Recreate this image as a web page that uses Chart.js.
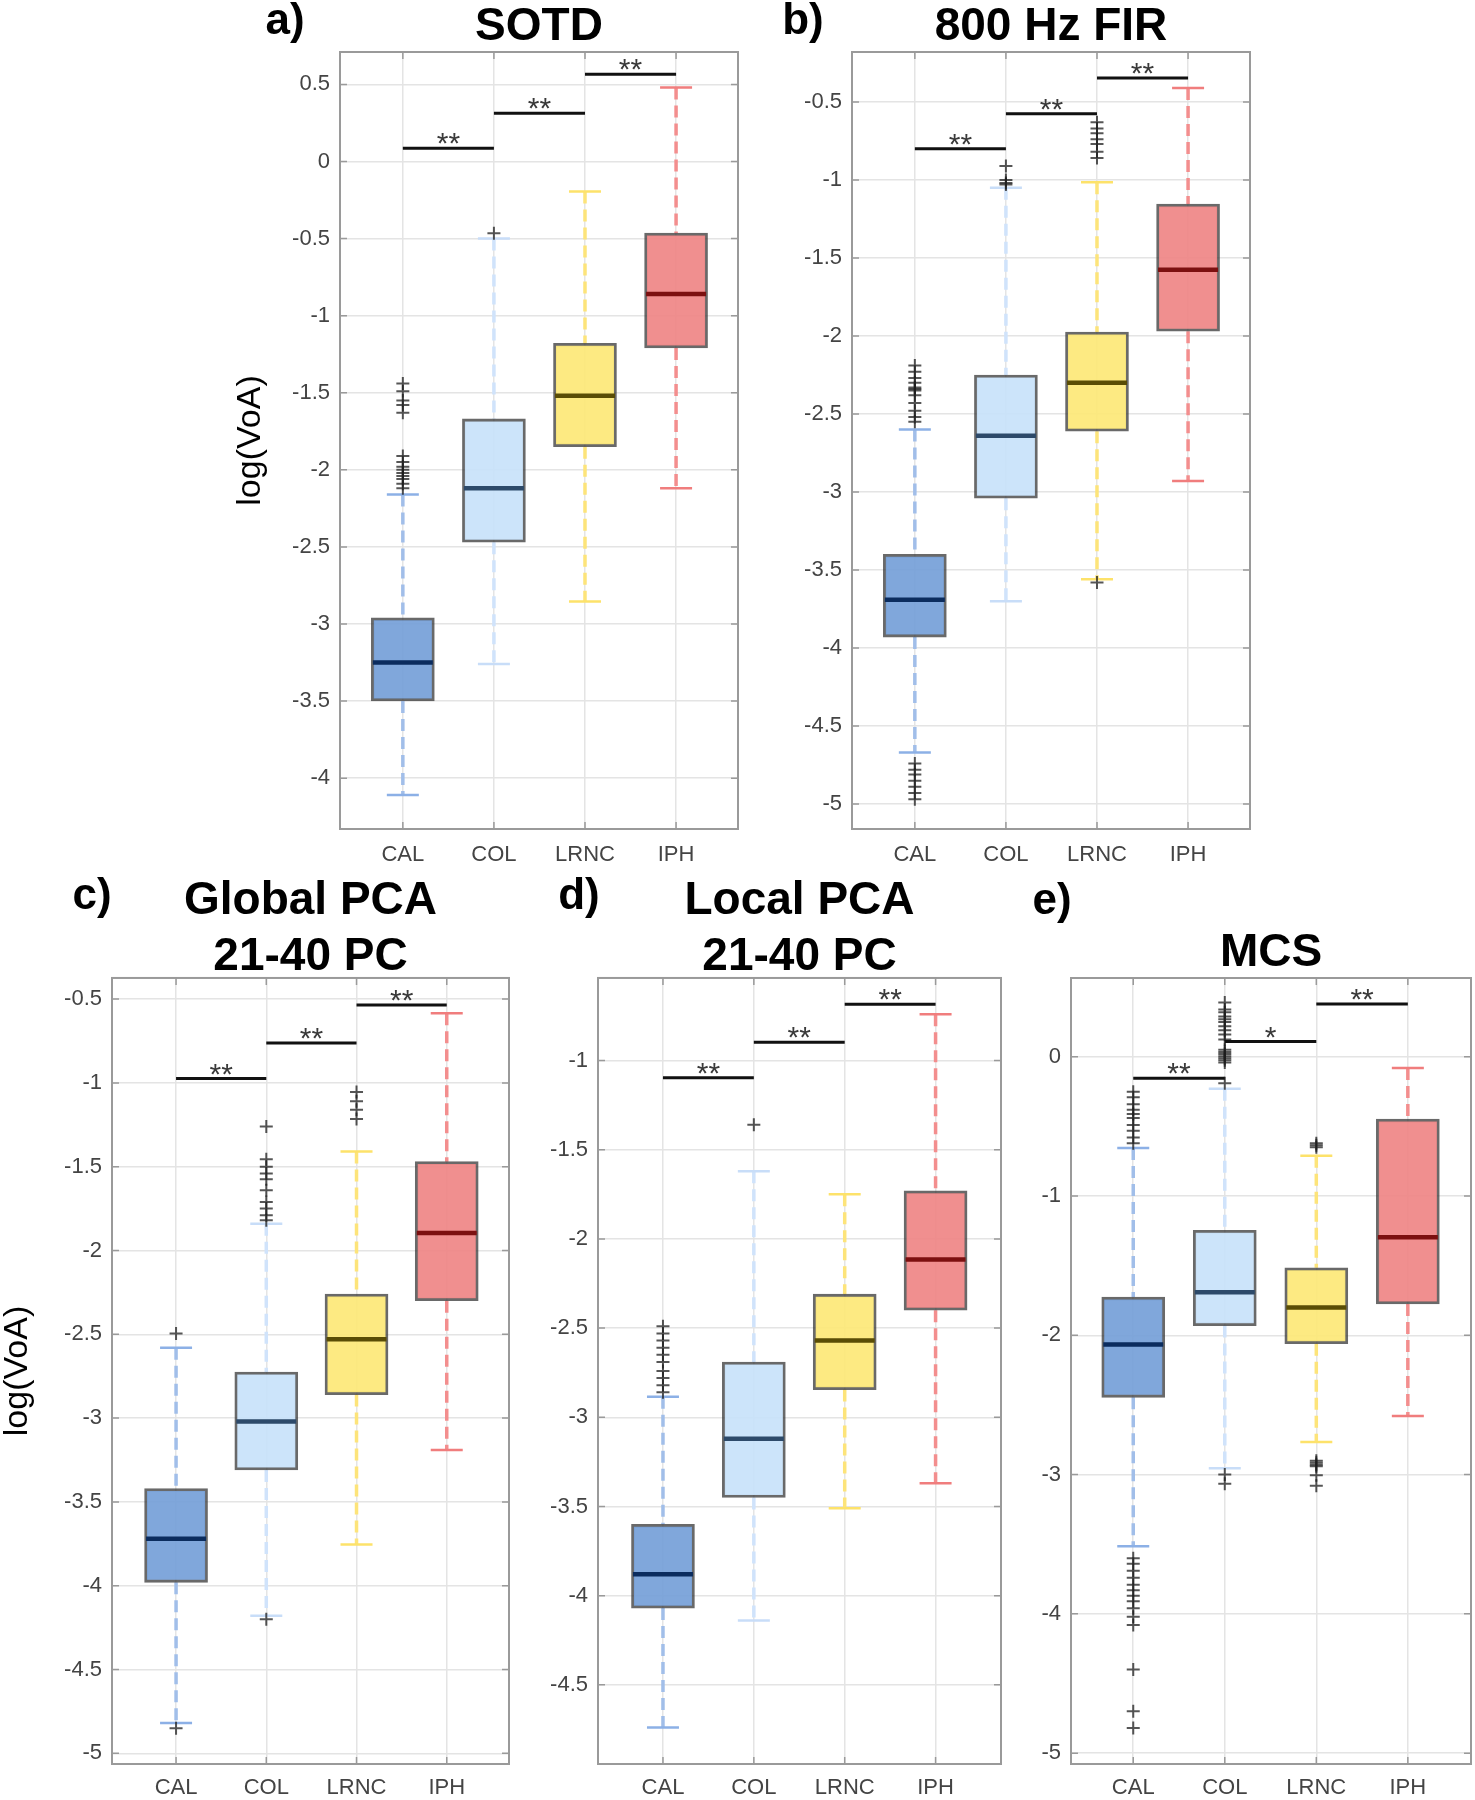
<!DOCTYPE html>
<html>
<head>
<meta charset="utf-8">
<title>log(VoA) box plots</title>
<script src="https://cdn.jsdelivr.net/npm/chart.js@4.4.0/dist/chart.umd.min.js"></script>
<style>
    body { margin: 0; background: #fff; }
    #figure { position: relative; width: 1475px; height: 1800px; overflow: hidden; background: #fff; }
    #figure canvas { position: absolute; }
</style>
</head>
<body>
<div id="figure"></div>
<script>
// Box plots of log(VoA) per plaque component, five methods

const FONT = '"Liberation Sans", Arial, Helvetica, sans-serif';

const categories = ['CAL', 'COL', 'LRNC', 'IPH'];
const yTitle = 'log(VoA)';

// a) SOTD
const sotdQ1 = [-3.50, -2.47, -1.85, -1.21];
const sotdMedian = [-3.25, -2.12, -1.52, -0.86];
const sotdQ3 = [-2.96, -1.67, -1.18, -0.465];
const sotdLow = [-4.11, -3.26, -2.855, -2.12];
const sotdHigh = [-2.16, -0.50, -0.195, 0.48];
const sotdOutliers = [
    [-1.44, -1.49, -1.55, -1.58, -1.63, -1.91, -1.95, -1.98, -2.00, -2.02, -2.04, -2.06, -2.09, -2.12],
    [-0.465],
    [],
    []
];
const sotdSig = [0.086, 0.313, 0.565];
const sotdStars = ['**', '**', '**'];
const sotdTicks = [-4, -3.5, -3, -2.5, -2, -1.5, -1, -0.5, 0, 0.5];

// b) 800 Hz FIR
const firQ1 = [-3.93, -3.04, -2.61, -1.97];
const firMedian = [-3.69, -2.64, -2.30, -1.575];
const firQ3 = [-3.40, -2.25, -1.975, -1.155];
const firLow = [-4.67, -3.70, -3.56, -2.93];
const firHigh = [-2.60, -1.05, -1.015, -0.41];
const firOutliers = [
    [-2.19, -2.23, -2.27, -2.30, -2.33, -2.34, -2.35, -2.38, -2.43, -2.48, -2.52, -2.55,
     -4.74, -4.78, -4.81, -4.85, -4.89, -4.93, -4.97],
    [-0.91, -1.00, -1.02, -1.03],
    [-0.63, -0.67, -0.70, -0.74, -0.77, -0.82, -0.86, -3.58],
    []
];
const firSig = [-0.80, -0.575, -0.347];
const firStars = ['**', '**', '**'];
const firTicks = [-5, -4.5, -4, -3.5, -3, -2.5, -2, -1.5, -1, -0.5];

// c) Global PCA 21-40 PC
const globalQ1 = [-3.98, -3.31, -2.86, -2.30];
const globalMedian = [-3.72, -3.02, -2.53, -1.895];
const globalQ3 = [-3.42, -2.725, -2.26, -1.47];
const globalLow = [-4.82, -4.18, -3.755, -3.19];
const globalHigh = [-2.58, -1.84, -1.41, -0.585];
const globalOutliers = [
    [-2.495, -4.85],
    [-1.26, -1.455, -1.50, -1.54, -1.575, -1.64, -1.71, -1.75, -1.79, -1.82, -4.20],
    [-1.055, -1.11, -1.16, -1.215],
    []
];
const globalSig = [-0.974, -0.762, -0.535];
const globalStars = ['**', '**', '**'];
const globalTicks = [-5, -4.5, -4, -3.5, -3, -2.5, -2, -1.5, -1, -0.5];

// d) Local PCA 21-40 PC
const localQ1 = [-4.07, -3.45, -2.845, -2.40];
const localMedian = [-3.88, -3.12, -2.57, -2.115];
const localQ3 = [-3.60, -2.69, -2.31, -1.73];
const localLow = [-4.74, -4.14, -3.51, -3.37];
const localHigh = [-2.885, -1.62, -1.75, -0.74];
const localOutliers = [
    [-2.49, -2.53, -2.57, -2.61, -2.65, -2.69, -2.74, -2.78, -2.82, -2.86],
    [-1.36],
    [],
    []
];
const localSig = [-1.096, -0.897, -0.684];
const localStars = ['**', '**', '**'];
const localTicks = [-4.5, -4, -3.5, -3, -2.5, -2, -1.5, -1];

// e) MCS
const mcsQ1 = [-2.445, -1.93, -2.06, -1.775];
const mcsMedian = [-2.065, -1.69, -1.80, -1.295];
const mcsQ3 = [-1.725, -1.245, -1.515, -0.447];
const mcsLow = [-3.515, -2.955, -2.765, -2.58];
const mcsHigh = [-0.655, -0.23, -0.71, -0.08];
const mcsOutliers = [
    [-0.25, -0.29, -0.34, -0.38, -0.41, -0.44, -0.49, -0.53, -0.58, -0.62,
     -3.60, -3.64, -3.69, -3.74, -3.79, -3.83, -3.87, -3.91, -3.96, -4.02, -4.08, -4.40, -4.70, -4.82],
    [0.39, 0.34, 0.32, 0.29, 0.27, 0.25, 0.22, 0.19, 0.16, 0.125,
     0.05, 0.035, 0.02, 0.005, -0.01, -0.025, -0.04, -0.19, -3.00, -3.065],
    [-0.62, -0.635, -0.65, -2.90, -2.915, -2.93, -2.94, -3.005, -3.08],
    []
];
const mcsSig = [-0.153, 0.11, 0.379];
const mcsStars = ['**', '*', '**'];
const mcsTicks = [-5, -4, -3, -2, -1, 0];

// Colours (one per category)
const boxColors = ['rgba(118,160,216,0.93)', 'rgba(200,226,250,0.93)', 'rgba(253,232,120,0.93)', 'rgba(239,134,134,0.93)'];
const medianColors = ['#0b2c5e', '#2d4a6a', '#5a4d05', '#7c1010'];
const whiskerColors = ['#a1bee9', '#d0e3fb', '#fde47a', '#f38e8e'];
const capColors = ['#8cb0e6', '#c8ddf8', '#fde26a', '#f07d7d'];

const panels = [
    {
        label: 'a)', title: 'SOTD', showYTitle: true,
        q1: sotdQ1, median: sotdMedian, q3: sotdQ3, low: sotdLow, high: sotdHigh,
        outliers: sotdOutliers, sig: sotdSig, stars: sotdStars, yTicks: sotdTicks,
        yMin: -4.33, yMax: 0.71, xMin: 0.31, xMax: 4.68,
        layout: { left: 220, top: 0, width: 524, height: 874, yAxisWidth: 120, xAxisHeight: 45,
                  padRight: 6, titlePad: { top: 4, bottom: 2 }, titleLineHeight: 1.0,
                  yTitlePad: 13.8, xLabelPad: 13, labelX: 65, labelY: 22 }
    },
    {
        label: 'b)', title: '800 Hz FIR', showYTitle: false,
        q1: firQ1, median: firMedian, q3: firQ3, low: firLow, high: firHigh,
        outliers: firOutliers, sig: firSig, stars: firStars, yTicks: firTicks,
        yMin: -5.16, yMax: -0.18, xMin: 0.31, xMax: 4.68,
        layout: { left: 760, top: 0, width: 496, height: 874, yAxisWidth: 92, xAxisHeight: 45,
                  padRight: 6, titlePad: { top: 4, bottom: 2 }, titleLineHeight: 1.0,
                  yTitlePad: 0, xLabelPad: 13, labelX: 43, labelY: 22 }
    },
    {
        label: 'c)', title: ['Global PCA', '21-40 PC'], showYTitle: true,
        q1: globalQ1, median: globalMedian, q3: globalQ3, low: globalLow, high: globalHigh,
        outliers: globalOutliers, sig: globalSig, stars: globalStars, yTicks: globalTicks,
        yMin: -5.064, yMax: -0.374, xMin: 0.29, xMax: 4.69,
        layout: { left: 0, top: 860, width: 515, height: 940, yAxisWidth: 112, xAxisHeight: 36,
                  padRight: 6, titlePad: { top: 13, bottom: -7 }, titleLineHeight: 1.217,
                  yTitlePad: 0.5, xLabelPad: 11, labelX: 92, labelY: 37 }
    },
    {
        label: 'd)', title: ['Local PCA', '21-40 PC'], showYTitle: false,
        q1: localQ1, median: localMedian, q3: localQ3, low: localLow, high: localHigh,
        outliers: localOutliers, sig: localSig, stars: localStars, yTicks: localTicks,
        yMin: -4.944, yMax: -0.537, xMin: 0.285, xMax: 4.72,
        layout: { left: 540, top: 860, width: 467, height: 940, yAxisWidth: 58, xAxisHeight: 36,
                  padRight: 6, titlePad: { top: 13, bottom: -7 }, titleLineHeight: 1.217,
                  yTitlePad: 0, xLabelPad: 11, labelX: 39, labelY: 37 }
    },
    {
        label: 'e)', title: 'MCS', showYTitle: false,
        q1: mcsQ1, median: mcsMedian, q3: mcsQ3, low: mcsLow, high: mcsHigh,
        outliers: mcsOutliers, sig: mcsSig, stars: mcsStars, yTicks: mcsTicks,
        yMin: -5.078, yMax: 0.566, xMin: 0.32, xMax: 4.69,
        layout: { left: 1010, top: 860, width: 465, height: 940, yAxisWidth: 61, xAxisHeight: 36,
                  padRight: 4, titlePad: { top: 70, bottom: 2 }, titleLineHeight: 1.0,
                  yTitlePad: 0, xLabelPad: 11, labelX: 42, labelY: 42 }
    }
];

// Build all datasets of one panel from its arrays
function buildDatasets(p) {
    const pos = categories.map((c, i) => i + 1);

    // dashed whiskers, box edge to whisker end
    const whiskers = categories.map((c, i) => ({
        type: 'line',
        data: [
            { x: pos[i], y: p.high[i] }, { x: pos[i], y: p.q3[i] },
            { x: pos[i], y: null },
            { x: pos[i], y: p.q1[i] }, { x: pos[i], y: p.low[i] }
        ],
        borderColor: whiskerColors[i],
        borderWidth: 3.5,
        borderDash: [12, 6],
        pointRadius: 0,
        spanGaps: false,
        order: 6
    }));

    const caps = {
        type: 'scatter',
        data: pos.map((x, i) => ({ x: x, y: p.low[i] })).concat(pos.map((x, i) => ({ x: x, y: p.high[i] }))),
        pointStyle: 'line',
        pointRadius: 16,
        pointBorderWidth: 2.5,
        pointBorderColor: capColors.concat(capColors),
        order: 5
    };

    const boxes = {
        type: 'bar',
        data: pos.map((x, i) => ({ x: x, y: [p.q1[i], p.q3[i]] })),
        backgroundColor: boxColors,
        borderColor: 'rgba(55, 55, 55, 0.75)',
        borderWidth: 2.8,
        borderSkipped: false,
        barThickness: 63,
        order: 3
    };

    const medians = {
        type: 'scatter',
        data: pos.map((x, i) => ({ x: x, y: p.median[i] })),
        pointStyle: 'line',
        pointRadius: 30,
        pointBorderWidth: 4.5,
        pointBorderColor: medianColors,
        order: 2
    };

    const outliers = {
        type: 'scatter',
        data: categories.flatMap((c, i) => p.outliers[i].map(v => ({ x: pos[i], y: v }))),
        pointStyle: 'cross',
        pointRadius: 6.5,
        pointBorderWidth: 2,
        pointBorderColor: 'rgba(30, 30, 30, 0.75)',
        order: 1
    };

    // significance bars between neighbouring groups
    const sigData = [];
    p.sig.forEach((v, j) => {
        if (j > 0) sigData.push({ x: j + 1, y: null });
        sigData.push({ x: j + 1, y: v }, { x: j + 2, y: v });
    });
    const sigBars = {
        type: 'line',
        data: sigData,
        borderColor: '#111',
        borderWidth: 3,
        pointRadius: 0,
        spanGaps: false,
        order: 0
    };

    return whiskers.concat([caps, boxes, medians, outliers, sigBars]);
}

// Stars, panel letter and the MATLAB-style axes box with inward ticks
function overlayPlugin(p) {
    return {
        id: 'overlay',
        afterDraw(chart) {
            const { ctx, chartArea: a, scales: { x, y } } = chart;
            ctx.save();

            ctx.font = '30px ' + FONT;
            ctx.fillStyle = '#3a3a3a';
            ctx.textAlign = 'center';
            ctx.textBaseline = 'alphabetic';
            p.sig.forEach((v, j) => {
                ctx.fillText(p.stars[j], x.getPixelForValue(j + 1.5), y.getPixelForValue(v) + 5);
            });

            ctx.font = 'bold 44px ' + FONT;
            ctx.fillStyle = '#000';
            ctx.textBaseline = 'middle';
            ctx.fillText(p.label, p.layout.labelX, p.layout.labelY);

            ctx.strokeStyle = '#9a9a9a';
            ctx.lineWidth = 2;
            ctx.strokeRect(a.left, a.top, a.right - a.left, a.bottom - a.top);
            ctx.lineWidth = 1.5;
            ctx.beginPath();
            y.ticks.forEach(t => {
                const py = y.getPixelForValue(t.value);
                ctx.moveTo(a.left, py); ctx.lineTo(a.left + 7, py);
                ctx.moveTo(a.right - 7, py); ctx.lineTo(a.right, py);
            });
            x.ticks.forEach(t => {
                const px = x.getPixelForValue(t.value);
                ctx.moveTo(px, a.bottom); ctx.lineTo(px, a.bottom - 7);
                ctx.moveTo(px, a.top); ctx.lineTo(px, a.top + 7);
            });
            ctx.stroke();
            ctx.restore();
        }
    };
}

function makePanel(p) {
    const L = p.layout;
    const canvas = document.createElement('canvas');
    canvas.width = L.width;
    canvas.height = L.height;
    canvas.style.left = L.left + 'px';
    canvas.style.top = L.top + 'px';
    canvas.style.width = L.width + 'px';
    canvas.style.height = L.height + 'px';
    document.getElementById('figure').appendChild(canvas);

    const gridStyle = { color: '#e4e4e4', lineWidth: 1.5, drawTicks: false, offset: false };

    const config = {
        type: 'bar',
        data: { datasets: buildDatasets(p) },
        options: {
            responsive: false,
            animation: false,
            devicePixelRatio: 1,
            events: [],
            layout: { autoPadding: false, padding: { left: 0, top: 0, bottom: 0, right: L.padRight } },
            plugins: {
                legend: { display: false },
                tooltip: { enabled: false },
                title: {
                    display: true,
                    text: p.title,
                    fullSize: false,
                    color: '#000',
                    font: { family: FONT, size: 46, weight: 'bold', lineHeight: L.titleLineHeight },
                    padding: L.titlePad
                }
            },
            scales: {
                x: {
                    type: 'linear',
                    min: p.xMin,
                    max: p.xMax,
                    offset: false,
                    grid: gridStyle,
                    border: { display: false },
                    afterBuildTicks: scale => {
                        scale.ticks = categories.map((c, i) => ({ value: i + 1 }));
                    },
                    afterFit: scale => { scale.height = L.xAxisHeight; },
                    ticks: {
                        autoSkip: false,
                        maxRotation: 0,
                        padding: L.xLabelPad,
                        color: '#444',
                        font: { family: FONT, size: 22 },
                        callback: value => categories[Math.round(value) - 1]
                    }
                },
                y: {
                    type: 'linear',
                    min: p.yMin,
                    max: p.yMax,
                    beginAtZero: false,
                    grid: gridStyle,
                    border: { display: false },
                    afterBuildTicks: scale => {
                        scale.ticks = p.yTicks.map(v => ({ value: v }));
                    },
                    afterFit: scale => { scale.width = L.yAxisWidth; },
                    ticks: {
                        padding: 10,
                        color: '#444',
                        font: { family: FONT, size: 22 },
                        callback: value => String(value)
                    },
                    title: {
                        display: p.showYTitle,
                        text: yTitle,
                        color: '#000',
                        font: { family: FONT, size: 34, lineHeight: 1 },
                        padding: { top: L.yTitlePad, bottom: 0 }
                    }
                }
            }
        },
        plugins: [overlayPlugin(p)]
    };

    new Chart(canvas.getContext('2d'), config);
}

panels.forEach(makePanel);
</script>
</body>
</html>
